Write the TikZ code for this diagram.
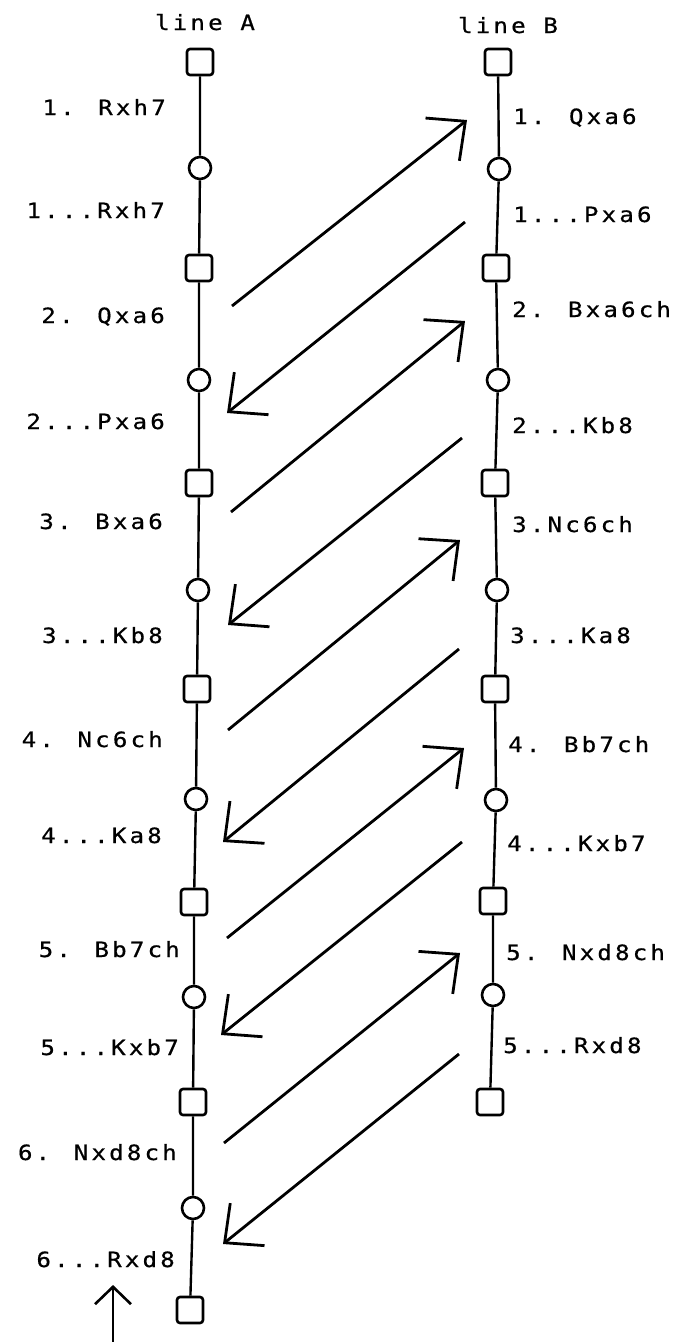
\documentclass[tikz,border=0pt]{standalone}
\usepackage{fontspec}
\newfontfamily\movefont{DejaVu Sans Mono}[FakeStretch=1.15,LetterSpace=15,FakeBold=0.6]
\usetikzlibrary{arrows.meta}

\begin{document}
\begin{tikzpicture}[
		x=1pt, y=-1pt,
		wpos/.style={
			draw, rectangle, rounded corners=3pt, line width=2.6pt,
			fill=white, minimum size=26pt, inner sep=0pt
		},
		bpos/.style={
			draw, circle, line width=2.6pt, fill=white,
			minimum size=22pt, inner sep=0pt
		},
		stem/.style={line width=2.4pt},
		move/.style={font=\movefont\fontsize{21pt}{24pt}\selectfont, inner sep=0pt},
		cross/.style={-{Straight Barb[angle=86:40pt]}, line width=2.8pt}
		]
		
		\useasboundingbox (0,0) rectangle (678,1342);
		
		% line A
		\node[wpos] (a1) at (200,62) {};
		\node[bpos] (a2) at (200,168) {};
		\node[wpos] (a3) at (199,268) {};
		\node[bpos] (a4) at (199,380) {};
		\node[wpos] (a5) at (199,483) {};
		\node[bpos] (a6) at (198,590) {};
		\node[wpos] (a7) at (197,689) {};
		\node[bpos] (a8) at (196,799) {};
		\node[wpos] (a9) at (194,902) {};
		\node[bpos] (a10) at (194,997) {};
		\node[wpos] (a11) at (193,1102) {};
		\node[bpos] (a12) at (193,1208) {};
		\node[wpos] (a13) at (190,1310) {};
		
		% line B
		\node[wpos] (b1) at (498,62) {};
		\node[bpos] (b2) at (499,169) {};
		\node[wpos] (b3) at (496,268) {};
		\node[bpos] (b4) at (498,380) {};
		\node[wpos] (b5) at (495,483) {};
		\node[bpos] (b6) at (497,590) {};
		\node[wpos] (b7) at (495,689) {};
		\node[bpos] (b8) at (496,800) {};
		\node[wpos] (b9) at (493,901) {};
		\node[bpos] (b10) at (493,995) {};
		\node[wpos] (b11) at (490,1102) {};
		
		\draw[stem] (a1) -- (a2) -- (a3) -- (a4) -- (a5) -- (a6) -- (a7)
		-- (a8) -- (a9) -- (a10) -- (a11) -- (a12) -- (a13);
		\draw[stem] (b1) -- (b2) -- (b3) -- (b4) -- (b5) -- (b6) -- (b7)
		-- (b8) -- (b9) -- (b10) -- (b11);
		
		\node[move, anchor=base] (hA) at (205,30) {line A};
		\node[move, anchor=base] (hB) at (508,33) {line B};
		
		% moves on line A
		\node[move, anchor=base east] (ta1) at (166,115) {1. Rxh7};
		\node[move, anchor=base east] (ta2) at (165,218) {1...Rxh7};
		\node[move, anchor=base east] (ta3) at (165,323) {2. Qxa6};
		\node[move, anchor=base east] (ta4) at (165,429) {2...Pxa6};
		\node[move, anchor=base east] (ta5) at (163,529) {3. Bxa6};
		\node[move, anchor=base east] (ta6) at (163,643) {3...Kb8};
		\node[move, anchor=base east] (ta7) at (163,747) {4. Nc6ch};
		\node[move, anchor=base east] (ta8) at (162,843) {4...Ka8};
		\node[move, anchor=base east] (ta9) at (180,957) {5. Bb7ch};
		\node[move, anchor=base east] (ta10) at (179,1055) {5...Kxb7};
		\node[move, anchor=base east] (ta11) at (177,1160) {6. Nxd8ch};
		\node[move, anchor=base east] (ta12) at (175,1267) {6...Rxd8};
		
		% moves on line B
		\node[move, anchor=base west] (tb1) at (513,124) {1. Qxa6};
		\node[move, anchor=base west] (tb2) at (513,222) {1...Pxa6};
		\node[move, anchor=base west] (tb3) at (512,317) {2. Bxa6ch};
		\node[move, anchor=base west] (tb4) at (512,433) {2...Kb8};
		\node[move, anchor=base west] (tb5) at (512,532) {3.Nc6ch};
		\node[move, anchor=base west] (tb6) at (510,643) {3...Ka8};
		\node[move, anchor=base west] (tb7) at (508,752) {4. Bb7ch};
		\node[move, anchor=base west] (tb8) at (507,851) {4...Kxb7};
		\node[move, anchor=base west] (tb9) at (506,960) {5. Nxd8ch};
		\node[move, anchor=base west] (tb10) at (503,1053) {5...Rxd8};
		
		% crossings A -> B
		\coordinate (ab1s) at (232,306);  \coordinate (ab1e) at (467,120);
		\coordinate (ab2s) at (231,512);  \coordinate (ab2e) at (465,321);
		\coordinate (ab3s) at (228,730);  \coordinate (ab3e) at (460,540);
		\coordinate (ab4s) at (227,938);  \coordinate (ab4e) at (464,748);
		\coordinate (ab5s) at (224,1143); \coordinate (ab5e) at (460,953);
		% crossings B -> A
		\coordinate (ba1s) at (465,222);  \coordinate (ba1e) at (227,413);
		\coordinate (ba2s) at (462,438);  \coordinate (ba2e) at (228,625);
		\coordinate (ba3s) at (459,649);  \coordinate (ba3e) at (223,842);
		\coordinate (ba4s) at (462,842);  \coordinate (ba4e) at (221,1035);
		\coordinate (ba5s) at (459,1054); \coordinate (ba5e) at (223,1244);
		
		\draw[cross] (ab1s) -- (ab1e);
		\draw[cross] (ab2s) -- (ab2e);
		\draw[cross] (ab3s) -- (ab3e);
		\draw[cross] (ab4s) -- (ab4e);
		\draw[cross] (ab5s) -- (ab5e);
		\draw[cross] (ba1s) -- (ba1e);
		\draw[cross] (ba2s) -- (ba2e);
		\draw[cross] (ba3s) -- (ba3e);
		\draw[cross] (ba4s) -- (ba4e);
		\draw[cross] (ba5s) -- (ba5e);
		
		% pointer under the last move
		\coordinate (ps) at (113,1342);
		\coordinate (pe) at (113,1285);
		\draw[-{Straight Barb[angle=92:25pt]}, line width=2.6pt] (ps) -- (pe);
		
	\end{tikzpicture}
\end{document}
